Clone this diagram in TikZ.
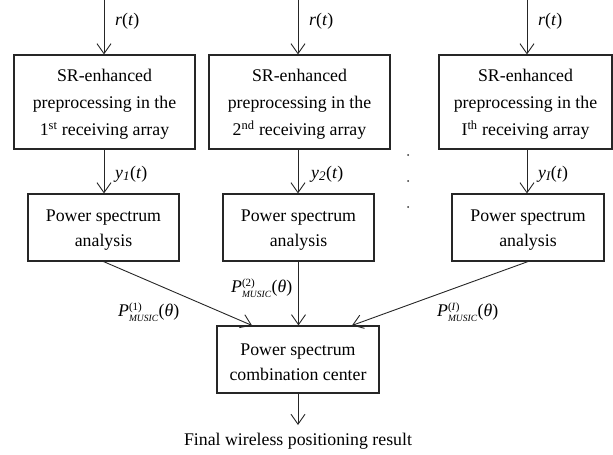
\documentclass[tikz,border=0pt]{standalone}
\usepackage{fontspec}
\setmainfont{Liberation Serif}
\usetikzlibrary{arrows.meta,calc}

% P^{(k)}_{MUSIC}(theta)
\newcommand{\pmusic}[1]{\textit{P}$^{\mbox{\fontsize{11}{11}\selectfont(#1)}}_{\mbox{\fontsize{9.5}{10}\selectfont\itshape MUSIC}}$(\textit{θ})}
\newcommand{\ysig}[1]{\textit{y}$_{\mbox{\fontsize{13}{13}\selectfont\itshape #1}}$(\textit{t})}
% taller first line, so the text block sits a little low in its box
\newcommand{\lowstrut}{\rule{0pt}{17pt}}

\begin{document}
\begin{tikzpicture}[x=1pt,y=-1pt,
  box/.style={draw=black!85,line width=1.1pt,align=center,inner sep=0pt},
  tall/.style={font=\fontsize{17.8}{27}\selectfont},
  short/.style={font=\fontsize{17.8}{25}\selectfont},
  flow/.style={draw=black!85,line width=0.9pt,
    -{Straight Barb[length=10pt,width=14pt,line width=0.9pt]}},
  lab/.style={font=\fontsize{17.8}{20}\selectfont,inner sep=0pt,anchor=west},
  dot/.style={fill=black!80}]
\useasboundingbox (0,0) rectangle (613,455);

% receiving arrays
\node[box,tall,minimum width=181pt,minimum height=94pt] (tb1) at (104.5,102)
  {\lowstrut SR-enhanced\\preprocessing in the\\1\textsuperscript{st} receiving array};
\node[box,tall,minimum width=181pt,minimum height=94pt] (tb2) at (299.5,102)
  {\lowstrut SR-enhanced\\preprocessing in the\\2\textsuperscript{nd} receiving array};
\node[box,tall,minimum width=173pt,minimum height=94pt] (tb3) at (525.5,102)
  {\lowstrut SR-enhanced\\preprocessing in the\\I\textsuperscript{th} receiving array};

% power spectrum analysis
\node[box,short,minimum width=151pt,minimum height=67pt] (pb1) at (103.5,227.5)
  {\lowstrut Power spectrum\\analysis};
\node[box,short,minimum width=151pt,minimum height=67pt] (pb2) at (298.5,227.5)
  {\lowstrut Power spectrum\\analysis};
\node[box,short,minimum width=152pt,minimum height=67pt] (pb3) at (528,227.5)
  {\lowstrut Power spectrum\\analysis};

% combination center
\node[box,short,minimum width=162pt,minimum height=67pt] (cc) at (298,359.5)
  {\lowstrut Power spectrum\\combination center};
\node[font=\fontsize{17.8}{20}\selectfont,inner sep=0pt] (res) at (298,441)
  {Final wireless positioning result};

% inputs
\coordinate (in1) at (104,0);
\coordinate (in2) at (298,0);
\coordinate (in3) at (527,0);
\draw[flow] (in1) -- (in1 |- tb1.north);
\draw[flow] (in2) -- (in2 |- tb2.north);
\draw[flow] (in3) -- (in3 |- tb3.north);
\node[lab] (r1) at (115,21) {\textit{r}(\textit{t})};
\node[lab] (r2) at (309,21) {\textit{r}(\textit{t})};
\node[lab] (r3) at (538,21) {\textit{r}(\textit{t})};

% array outputs
\draw[flow] (in1 |- tb1.south) -- (in1 |- pb1.north);
\draw[flow] (in2 |- tb2.south) -- (in2 |- pb2.north);
\draw[flow] (in3 |- tb3.south) -- (in3 |- pb3.north);
\node[lab] (y1) at (115,174) {\ysig{1}};
\node[lab] (y2) at (311,174) {\ysig{2}};
\node[lab] (y3) at (538,174) {\ysig{I}};

% ellipsis between arrays
\fill[dot] (408,155) circle (1pt);
\fill[dot] (408,181) circle (1pt);
\fill[dot] (408,207) circle (1pt);

% spectra into the combination center
\coordinate (c1) at ($(cc.north)+(-46,0)$);
\coordinate (c3) at ($(cc.north)+(54,0)$);
\draw[flow] (pb1.south) -- (c1);
\draw[flow] (pb2.south) -- (pb2.south |- cc.north);
\draw[flow] (pb3.south) -- (c3);
\node[lab] (p1) at (118,312) {\pmusic{1}};
\node[lab] (p2) at (231,288) {\pmusic{2}};
\node[lab] (p3) at (437,312) {\pmusic{\textit{I}}};

% final result
\coordinate (out) at (298,425);
\draw[flow] (cc.south) -- (out);
\end{tikzpicture}
\end{document}
